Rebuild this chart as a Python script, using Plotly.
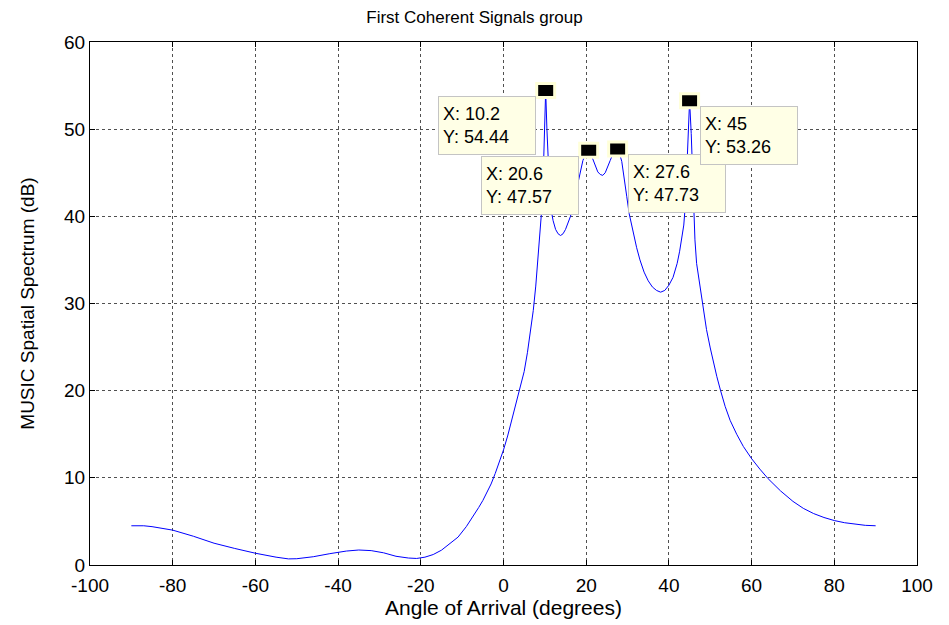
import plotly.graph_objects as go

# Spectrum samples (angle in degrees, level in dB)
angle = [-90, -87, -85, -80, -75, -70, -65, -60, -55, -52, -50, -46, -42, -38, -35, -32, -29, -26,
         -23, -21, -19, -17, -15, -13, -11, -9, -7, -6, -5, -4, -3, -2, -1, 0, 1, 2, 3, 4, 5, 5.8,
         6.6, 7.2, 7.8, 8.2, 8.6, 8.8, 9.2, 9.6, 9.9, 10.2, 10.5, 10.8, 11.2, 11.6, 12.0, 12.6,
         13.2, 13.8, 14.4, 15.0, 15.6, 16.2, 16.8, 17.4, 18.0, 18.6, 19.2, 19.8, 20.2, 20.6, 21.0,
         21.6, 22.2, 22.8, 23.4, 24.0, 24.6, 25.2, 25.8, 26.4, 27.0, 27.6, 28.0, 28.6, 29.2, 29.8,
         30.4, 31.0, 31.6, 32.2, 33.0, 34.0, 35.0, 36.0, 37.0, 38.0, 39.0, 40.0, 41.0, 42.0, 42.6,
         43.2, 43.6, 44.0, 44.3, 44.6, 45.0, 45.4, 45.7, 46.0, 46.3, 46.7, 47.4, 48.2, 49.1, 50.0,
         50.7, 51.6, 52.5, 53.6, 54.8, 56.4, 58.0, 60.0, 62.0, 64.0, 67.0, 70.0, 72.5, 75.0, 77.5,
         80.0, 82.5, 85.0, 87.5, 90.0]
spectrum = [4.5, 4.5, 4.4, 4.0, 3.3, 2.5, 1.9, 1.35, 0.9, 0.7, 0.72, 0.95, 1.3, 1.6, 1.72, 1.65, 1.4, 1.0,
            0.8, 0.75, 0.9, 1.2, 1.7, 2.4, 3.2, 4.4, 5.8, 6.6, 7.4, 8.3, 9.3, 10.5, 11.8, 13.2, 14.8, 16.6, 18.4, 20.2, 22.2, 24.4,
            26.9, 29.2, 32.0, 34.3, 36.8, 38.2, 40.5, 44.5, 49.0, 54.44, 50.0, 46.0, 42.5, 40.5, 39.5, 38.5,
            38.0, 37.8, 38.0, 38.5, 39.2, 40.0, 41.2, 42.5, 44.0, 45.3, 46.4, 47.1, 47.4, 47.57, 47.3,
            46.6, 45.8, 45.1, 44.8, 44.7, 45.0, 45.6, 46.4, 47.1, 47.6, 47.73, 47.3, 46.3, 44.5, 42.3,
            40.3, 38.9, 37.6, 36.4, 35.0, 33.6, 32.6, 31.9, 31.5, 31.3, 31.5, 32.1, 33.0, 34.6, 36.0,
            37.6, 39.0, 41.5, 45.0, 49.5, 53.26, 49.5, 45.0, 40.5, 37.3, 34.6, 32.3, 29.8, 27.0, 24.9,
            23.4, 21.6, 20.0, 18.2, 16.6, 15.0, 13.6, 12.2, 11.0, 9.9, 8.5, 7.3, 6.5, 5.9, 5.45,
            5.1, 4.85, 4.7, 4.55, 4.5]

# Data tips
peak_x = [10.2, 20.6, 27.6, 45]
peak_y = [54.44, 47.57, 47.73, 53.26]
peak_labels = ["X: 10.2<br>Y: 54.44", "X: 20.6<br>Y: 47.57", "X: 27.6<br>Y: 47.73", "X: 45<br>Y: 53.26"]
tip_side = [-1, -1, 1, 1]

x_ticks = [-100, -80, -60, -40, -20, 0, 20, 40, 60, 80, 100]
y_ticks = [0, 10, 20, 30, 40, 50, 60]

FONT = "Liberation Sans, Arial, sans-serif"

fig = go.Figure()
fig.add_trace(go.Scatter(x=angle, y=spectrum, mode="lines",
                         line=dict(color="#0000FF", width=1), showlegend=False,
                         hoverinfo="x+y"))

shapes = []
annotations = []
for px_, py_, lab, side in zip(peak_x, peak_y, peak_labels, tip_side):
    shapes.append(dict(type="rect", xref="x", yref="y", xsizemode="pixel", ysizemode="pixel",
                       xanchor=px_, yanchor=py_, x0=-9, x1=9, y0=-7, y1=7,
                       fillcolor="black", line=dict(color="#FFFFD8", width=3), layer="above"))
    annotations.append(dict(x=px_, y=py_, xref="x", yref="y", text=lab, showarrow=True,
                            ax=59 * side, ay=35, arrowcolor="rgba(0,0,0,0)", arrowwidth=0.1,
                            arrowhead=0, align="left", bgcolor="#FFFFE6", bordercolor="#C4C4C4",
                            borderwidth=1, borderpad=4, width=88, height=49,
                            font=dict(family=FONT, size=18, color="black")))

axis_common = dict(showline=True, linecolor="black", linewidth=1, mirror="ticks",
                   ticks="inside", ticklen=5, tickcolor="black",
                   showgrid=True, gridcolor="#505050", gridwidth=1, griddash="dot",
                   zeroline=False, tickfont=dict(family=FONT, size=19, color="black"))

fig.update_layout(
    width=949, height=625,
    margin=dict(l=90, r=32, t=42, b=60),
    paper_bgcolor="white", plot_bgcolor="white",
    title=dict(text="First Coherent Signals group", x=0.5, xanchor="center", y=0.982, yanchor="top",
               font=dict(family=FONT, size=17, color="black")),
    xaxis=dict(range=[-100, 100], tickvals=x_ticks, ticktext=[str(v) for v in x_ticks],
               ticklabelstandoff=3,
               title=dict(text="Angle of Arrival (degrees)", font=dict(family=FONT, size=21, color="black"),
                          standoff=0),
               **axis_common),
    yaxis=dict(range=[0, 60], tickvals=y_ticks, ticktext=[str(v) for v in y_ticks],
               title=dict(text="MUSIC Spatial Spectrum (dB)", font=dict(family=FONT, size=19, color="black"),
                          standoff=24),
               **axis_common),
    shapes=shapes,
    annotations=annotations,
)

fig.write_html("out.html")
